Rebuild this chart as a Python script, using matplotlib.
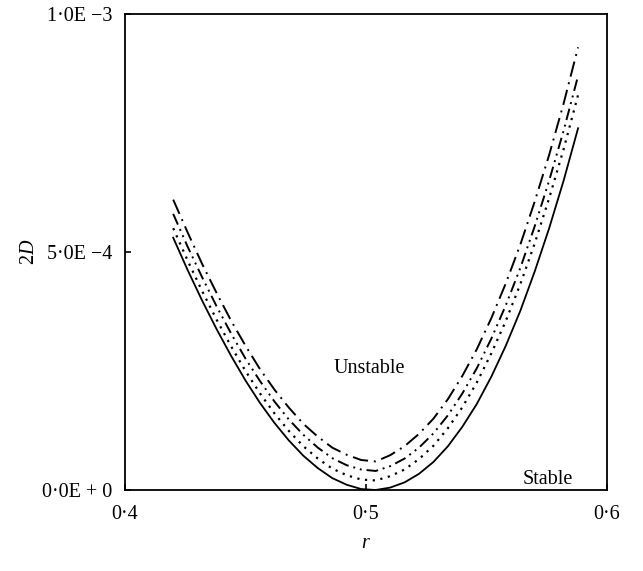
import matplotlib
matplotlib.use("Agg")
import matplotlib.pyplot as plt

r = [0.420, 0.426, 0.432, 0.438, 0.444, 0.450, 0.456, 0.462, 0.468, 0.474,
     0.480, 0.486, 0.492, 0.498, 0.504, 0.510, 0.516, 0.522, 0.528, 0.534,
     0.540, 0.546, 0.552, 0.558, 0.564, 0.570, 0.576, 0.582, 0.588]
d_solid = [0.530, 0.462, 0.398, 0.338, 0.282, 0.230, 0.183, 0.141, 0.104, 0.072,
           0.046, 0.025, 0.011, 0.002, 0.000, 0.005, 0.016, 0.034, 0.059, 0.092,
           0.133, 0.181, 0.238, 0.303, 0.376, 0.459, 0.550, 0.650, 0.760]
d_dotted = [0.550, 0.482, 0.418, 0.358, 0.302, 0.250, 0.203, 0.161, 0.124, 0.092,
            0.066, 0.045, 0.031, 0.022, 0.020, 0.029, 0.043, 0.065, 0.093, 0.130,
            0.174, 0.226, 0.287, 0.355, 0.432, 0.518, 0.613, 0.716, 0.830]
d_dashdotdot = [0.580, 0.511, 0.447, 0.386, 0.329, 0.276, 0.229, 0.186, 0.148, 0.116,
                0.089, 0.067, 0.052, 0.043, 0.040, 0.050, 0.066, 0.089, 0.119, 0.157,
                0.203, 0.256, 0.318, 0.388, 0.466, 0.554, 0.650, 0.755, 0.870]
d_dashdot = [0.610, 0.541, 0.475, 0.414, 0.356, 0.303, 0.254, 0.211, 0.173, 0.139,
             0.112, 0.089, 0.074, 0.063, 0.060, 0.073, 0.092, 0.118, 0.150, 0.191,
             0.240, 0.296, 0.361, 0.434, 0.515, 0.606, 0.704, 0.812, 0.930]

xticks = [0.4, 0.5, 0.6]
xticklabels = ["0·4", "0·5", "0·6"]
yticks = [0.0, 5e-4, 1e-3]
yticklabels = ["0·0E + 0", "5·0E −4", "1·0E −3"]

plt.rcParams['font.family'] = ['Liberation Serif', 'DejaVu Serif']
plt.rcParams['mathtext.fontset'] = 'custom'
plt.rcParams['mathtext.rm'] = 'Liberation Serif'
plt.rcParams['mathtext.it'] = 'Liberation Serif:italic'

fig = plt.figure(figsize=(6.43, 5.71), dpi=100)
ax = fig.add_axes([125/643, 1 - 490/571, (607-125)/643, (490-14)/571])

scale = 1e-3
ax.plot(r, [v*scale for v in d_solid], color='black', lw=1.3, ls='-')
ax.plot(r, [v*scale for v in d_dotted], color='black', lw=1.6, ls=(0, (1, 2.5)))
ax.plot(r, [v*scale for v in d_dashdotdot], color='black', lw=1.4,
        ls=(0, (6, 2.5, 1, 2.5, 1, 2.5)))
ax.plot(r, [v*scale for v in d_dashdot], color='black', lw=1.4,
        ls=(0, (8, 3, 1, 3)))

ax.set_xlim(0.4, 0.6)
ax.set_ylim(0, 1e-3)
ax.set_xticks(xticks)
ax.set_xticklabels(xticklabels)
ax.set_yticks(yticks)
ax.set_yticklabels(yticklabels)
ax.tick_params(direction='in', length=4, width=1.2, labelsize=14.5,
               top=False, right=False)
ax.tick_params(axis='x', pad=11)
ax.tick_params(axis='y', pad=9)
for s in ax.spines.values():
    s.set_linewidth(1.3)

ax.set_xlabel(r'$\mathit{r}$', fontsize=14.5, labelpad=7)
ax.set_ylabel(r'2$\mathit{D}$', fontsize=14.5)
ax.yaxis.set_label_coords(-0.178, 0.5)

ax.text(0.5015, 0.256e-3, 'Unstable', fontsize=14.5, ha='center', va='center')
ax.text(0.5755, 0.012e-3, 'Stable', fontsize=14.5, ha='center', va='baseline')

fig.savefig('out.png', dpi=100)
